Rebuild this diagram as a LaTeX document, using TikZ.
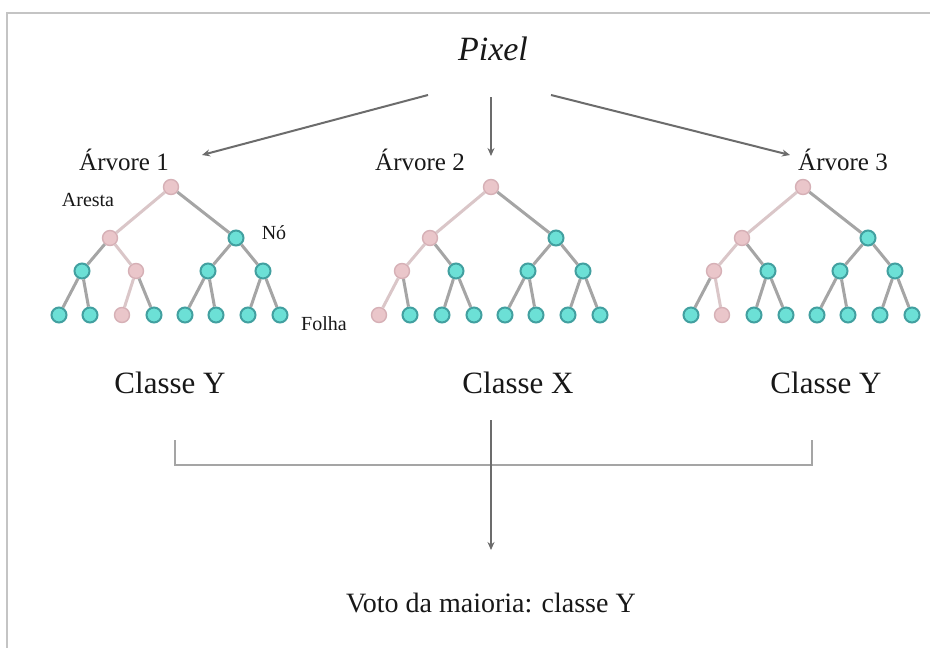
\documentclass[tikz,border=0pt]{standalone}
\usepackage{fontspec}
\setmainfont{Liberation Serif}
\usetikzlibrary{arrows.meta}

\definecolor{tealfill}{RGB}{108,224,214}
\definecolor{tealline}{RGB}{66,160,160}
\definecolor{pinkfill}{RGB}{234,198,202}
\definecolor{pinkline}{RGB}{214,176,182}
\definecolor{edgegray}{RGB}{165,165,165}
\definecolor{edgepink}{RGB}{218,198,200}
\definecolor{framegray}{RGB}{196,196,196}
\definecolor{inkgray}{RGB}{24,24,24}

\tikzset{
  tnode/.style={circle, draw=tealline, fill=tealfill, line width=2pt, minimum size=15pt, inner sep=0pt},
  pnode/.style={circle, draw=pinkline, fill=pinkfill, line width=1.4pt, minimum size=15pt, inner sep=0pt},
  tedge/.style={draw=edgegray, line width=3pt},
  pedge/.style={draw=edgepink, line width=3pt},
  seta/.style={draw=gray!85!black, line width=2pt, -{Stealth[length=8pt,width=7pt]}},
  rotulo/.style={text=inkgray, inner sep=0pt},
}

\begin{document}
\begin{tikzpicture}[x=1pt, y=-1pt]
\useasboundingbox[fill=white] (0,0) rectangle (930,648);
\draw[framegray, line width=1.6pt] (930,13) -- (7,13) -- (7,648);

% titulo e rotulos das arvores
\node[rotulo, font=\fontsize{34}{40}\selectfont\itshape] (pixel) at (493,49) {Pixel};
\node[rotulo, font=\fontsize{25}{30}\selectfont] (arv1) at (124,160) {Árvore 1};
\node[rotulo, font=\fontsize{25}{30}\selectfont] (arv2) at (420,160) {Árvore 2};
\node[rotulo, font=\fontsize{25}{30}\selectfont] (arv3) at (843,160) {Árvore 3};

\coordinate (s1) at (428,95);
\coordinate (s2) at (491,97);
\coordinate (s3) at (551,95);
\coordinate (e1) at (202,155);
\coordinate (e2) at (491,156);
\coordinate (e3) at (790,155);
\draw[seta] (s1) -- (e1);
\draw[seta] (s2) -- (e2);
\draw[seta] (s3) -- (e3);

% tres arvores: indice / x da raiz / no rosa do nivel 2 / folha rosa
\foreach \k/\X/\m/\f in {1/171/2/3, 2/491/1/1, 3/803/1/2}{
  \node[pnode] (r\k) at (\X,187) {};
  \node[pnode] (a\k) at (\X-61,238) {};
  \node[tnode] (b\k) at (\X+65,238) {};
  \draw[pedge] (r\k) -- (a\k);
  \draw[tedge] (r\k) -- (b\k);
  \foreach \j/\dx/\up in {1/-89/a, 2/-35/a, 3/37/b, 4/92/b}{
    \ifnum\j=\m \def\sty{pnode}\def\lig{pedge}\else \def\sty{tnode}\def\lig{tedge}\fi
    \node[\sty] (n\k\j) at (\X+\dx,271) {};
    \draw[\lig] (\up\k) -- (n\k\j);
  }
  \foreach \j/\dx/\up in {1/-112/1, 2/-81/1, 3/-49/2, 4/-17/2, 5/14/3, 6/45/3, 7/77/4, 8/109/4}{
    \ifnum\j=\f \def\sty{pnode}\def\lig{pedge}\else \def\sty{tnode}\def\lig{tedge}\fi
    \node[\sty] (f\k\j) at (\X+\dx,315) {};
    \draw[\lig] (n\k\up) -- (f\k\j);
  }
}

\node[rotulo, font=\fontsize{20}{24}\selectfont] (aresta) at (88,200) {Aresta};
\node[rotulo, font=\fontsize{20}{24}\selectfont] (no) at (274,233) {Nó};
\node[rotulo, font=\fontsize{20}{24}\selectfont] (folha) at (324,324) {Folha};

% classes e votacao
\node[rotulo, font=\fontsize{31}{36}\selectfont] (c1) at (170,383) {Classe Y};
\node[rotulo, font=\fontsize{31}{36}\selectfont] (c2) at (518,383) {Classe X};
\node[rotulo, font=\fontsize{31}{36}\selectfont] (c3) at (826,383) {Classe Y};

\coordinate (b1) at (175,440);
\coordinate (b3) at (812,440);
\coordinate (m) at (491,420);
\coordinate (v) at (491,550);
\draw[edgegray, line width=2.4pt] (b1) -- (b1 |- 0,465) -- (b3 |- 0,465) -- (b3);
\draw[seta, line width=1.5pt] (m) -- (v);

\node[rotulo, font=\fontsize{28}{34}\selectfont] (voto) at (491,603) {Voto da maioria: classe Y};
\end{tikzpicture}
\end{document}
